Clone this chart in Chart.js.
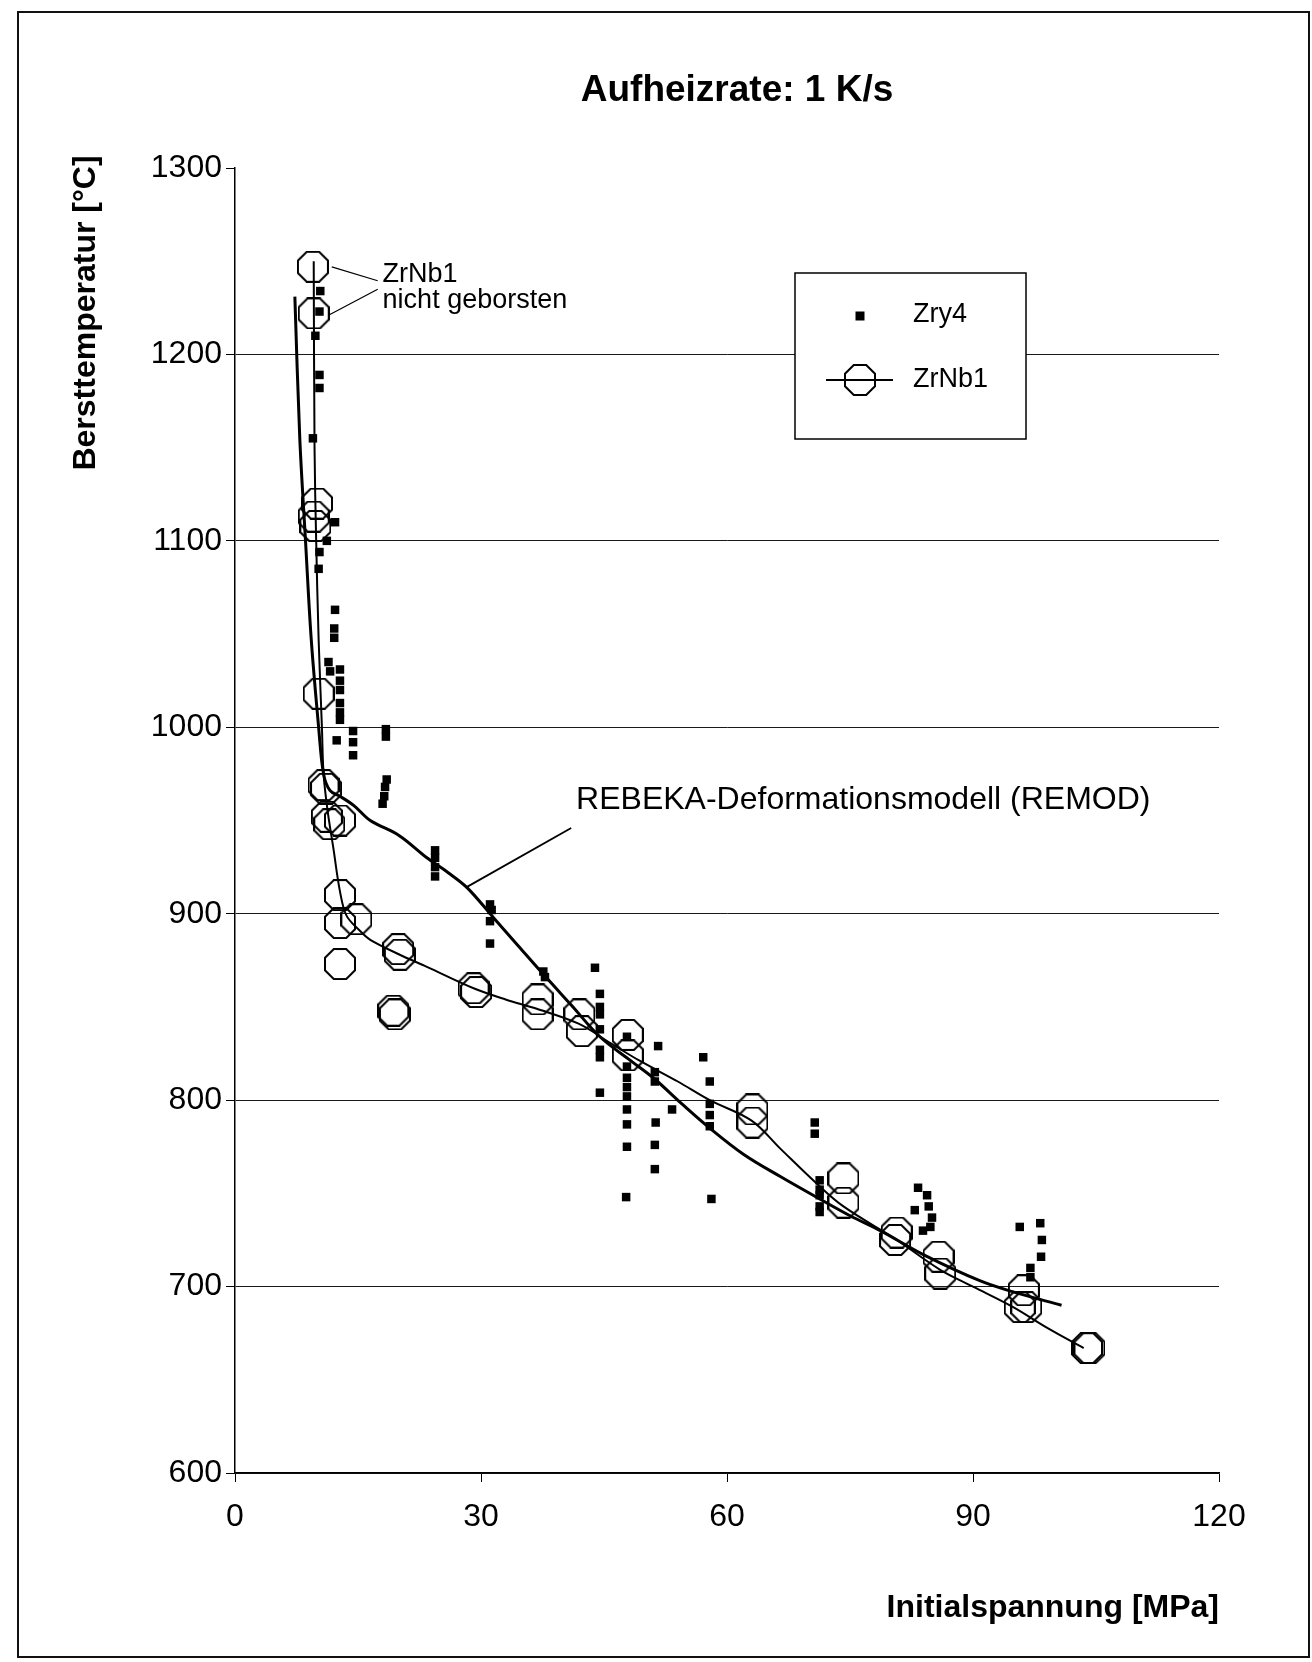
<!DOCTYPE html>
<html>
<head>
<meta charset="utf-8">
<script src="https://cdn.jsdelivr.net/npm/chart.js@4.4.1/dist/chart.umd.min.js"></script>
<style>
  html, body { margin: 0; padding: 0; background: #fff; }
  canvas { display: block; }
</style>
</head>
<body>
<canvas id="c" width="1312" height="1662"></canvas>
<script>
// ---------- data ----------
const chartTitle = 'Aufheizrate: 1 K/s';
const xTitle = 'Initialspannung [MPa]';
const yTitle = 'Bersttemperatur [°C]';
const xTicks = [0, 30, 60, 90, 120];
const yTicks = [600, 700, 800, 900, 1000, 1100, 1200, 1300];

// Zry4 measurements (squares)
const zry4X = [10.4, 10.3, 9.8, 10.3, 10.3, 9.5, 12.2, 11.2, 10.3, 10.2, 12.2, 12.1, 12.1, 11.4, 11.6,
  12.8, 12.8, 12.8, 12.8, 12.8, 12.8, 12.4, 14.4, 14.4, 14.4, 18.4, 18.4, 18.5, 18.3, 18.2, 18.0,
  24.4, 24.4, 24.4, 24.4, 31.1, 31.3, 31.1, 31.1, 37.6, 37.8,
  43.9, 44.5, 44.5, 44.5, 44.5, 44.5, 44.5, 44.5,
  47.8, 47.8, 47.8, 47.8, 47.8, 47.8, 47.8, 47.8, 47.7,
  51.6, 51.2, 51.2, 51.3, 51.2, 51.2, 53.3,
  57.1, 57.9, 57.9, 57.9, 57.9, 58.1,
  70.7, 70.7, 71.3, 71.3, 71.3, 71.3, 71.3,
  83.3, 84.4, 82.9, 84.6, 85.0, 83.9, 84.8,
  95.7, 98.2, 98.4, 98.3, 97.0, 97.0];
const zry4Y = [1234, 1223, 1210, 1189, 1182, 1155, 1110, 1100, 1094, 1085, 1063, 1053, 1048, 1035, 1030,
  1031, 1025, 1020, 1013, 1008, 1004, 993, 998, 992, 985, 999, 995, 972, 968, 963, 959,
  934, 930, 925, 920, 905, 902, 896, 884, 869, 866,
  871, 857, 850, 846, 838, 827, 823, 804,
  834, 818, 812, 807, 802, 795, 787, 775, 748,
  829, 815, 810, 788, 776, 763, 795,
  823, 810, 798, 792, 786, 747,
  788, 782, 757, 752, 749, 743, 740,
  753, 749, 741, 743, 737, 730, 732,
  732, 734, 725, 716, 710, 705];

// ZrNb1 measurements (octagons)
const zrnb1X = [9.5, 9.6, 10.0, 9.6, 9.8, 10.2, 10.8, 11.1, 11.2, 11.5, 12.8, 12.8, 12.8, 14.8, 12.8,
  19.9, 20.1, 19.3, 19.5, 29.1, 29.4, 36.9, 36.9, 42.0, 42.3, 47.9, 47.9,
  63.1, 63.1, 74.2, 74.2, 80.7, 80.5, 85.8, 86.0, 96.2, 95.7, 96.5, 103.9, 104.2];
const zrnb1Y = [1247, 1222, 1120, 1113, 1108, 1018, 969, 967, 952, 948, 950, 910, 895, 897, 873,
  881, 878, 848, 846, 860, 858, 854, 846, 846, 837, 835, 824,
  795, 788, 758, 745, 729, 725, 716, 707, 698, 689, 689, 667, 667];

// ZrNb1 trend line
const zrnb1FitX = [9.6, 9.7, 9.9, 10.2, 10.6, 10.8, 11.3, 12.0, 12.8, 13.6, 15.2, 16.5, 20.1, 23.4,
  29.1, 33.0, 36.8, 41.9, 46.0, 49.4, 54.0, 57.9, 63.0, 66.5, 71.0, 74.2, 80.7, 86.0, 90.0, 94.9, 99.0, 103.5];
const zrnb1FitY = [1250, 1150, 1100, 1047, 1000, 975, 955, 935, 912, 899, 891, 886, 878, 871.5,
  860, 854, 849, 841, 830, 821, 810, 800, 789, 774, 755, 743, 725, 709, 700, 689, 678, 667];

// REBEKA-Deformationsmodell (REMOD)
const remodX = [7.3, 7.9, 8.6, 9.3, 10.2, 10.8, 11.6, 12.8, 14.5, 16.5, 20.0, 23.4, 26.0, 28.3, 31.5,
  34.5, 37.5, 41.0, 44.5, 48.0, 51.0, 54.5, 57.9, 62.0, 66.5, 71.3, 75.0, 78.7, 84.0, 90.9, 95.0, 100.8];
const remodY = [1231, 1155, 1100, 1047, 1000, 975, 966, 963, 958, 950, 942, 930, 922, 914, 898,
  883, 868, 851, 834, 822, 812, 798, 785, 771, 759, 747, 738, 730, 717, 703, 697, 690];

const seriesNames = ['Zry4', 'ZrNb1'];
const remodLabel = 'REBEKA-Deformationsmodell (REMOD)';
const noteLines = ['ZrNb1', 'nicht geborsten'];

// ---------- helpers ----------
const FONT = "'Liberation Sans', Arial, Helvetica, sans-serif";
const toPts = (xs, ys) => xs.map((x, i) => ({ x: x, y: ys[i] }));

function makeOctagon(size, lw) {
  const c = document.createElement('canvas');
  c.width = size; c.height = size;
  const g = c.getContext('2d');
  g.strokeStyle = '#000';
  g.lineWidth = lw;
  const ap = (size - lw) / 2;
  const r = ap / Math.cos(Math.PI / 8);
  g.beginPath();
  for (let i = 0; i < 8; i++) {
    const a = Math.PI / 8 + i * Math.PI / 4;
    const px = size / 2 + r * Math.cos(a);
    const py = size / 2 + r * Math.sin(a);
    if (i === 0) g.moveTo(px, py); else g.lineTo(px, py);
  }
  g.closePath();
  g.stroke();
  return c;
}
const octagon = makeOctagon(32, 2);

const decorPlugin = {
  id: 'decor',
  beforeDraw(chart) {
    const ctx = chart.ctx;
    ctx.save();
    ctx.fillStyle = '#fff';
    ctx.fillRect(0, 0, chart.width, chart.height);
    ctx.strokeStyle = '#111';
    ctx.lineWidth = 2;
    ctx.strokeRect(18, 12, 1291, 1645);
    ctx.restore();
  },
  afterDraw(chart) {
    const ctx = chart.ctx;
    const xs = chart.scales.x, ys = chart.scales.y;
    const X = v => xs.getPixelForValue(v), Y = v => ys.getPixelForValue(v);
    ctx.save();
    ctx.fillStyle = '#000';
    ctx.strokeStyle = '#000';

    // title
    ctx.font = 'bold 37px ' + FONT;
    ctx.textAlign = 'center';
    ctx.textBaseline = 'alphabetic';
    ctx.fillText(chartTitle, 737, 101);

    // y title
    ctx.save();
    ctx.translate(86, 313);
    ctx.rotate(-Math.PI / 2);
    ctx.font = 'bold 32px ' + FONT;
    ctx.textAlign = 'center';
    ctx.textBaseline = 'middle';
    ctx.fillText(yTitle, 0, 0);
    ctx.restore();

    // x title
    ctx.font = 'bold 32px ' + FONT;
    ctx.textAlign = 'right';
    ctx.textBaseline = 'middle';
    ctx.fillText(xTitle, xs.right, 1608);

    // annotation: ZrNb1 nicht geborsten
    ctx.font = '27px ' + FONT;
    ctx.textAlign = 'left';
    ctx.textBaseline = 'alphabetic';
    ctx.fillText(noteLines[0], X(18.0), Y(1238.8));
    ctx.fillText(noteLines[1], X(18.0), Y(1225.0));
    ctx.lineWidth = 1.2;
    ctx.beginPath();
    ctx.moveTo(X(11.8), Y(1247)); ctx.lineTo(X(17.4), Y(1239.5));
    ctx.moveTo(X(17.4), Y(1235)); ctx.lineTo(X(11.4), Y(1221));
    ctx.stroke();

    // annotation: REMOD
    ctx.font = '32px ' + FONT;
    ctx.fillText(remodLabel, X(41.6), Y(956));
    ctx.lineWidth = 1.8;
    ctx.beginPath();
    ctx.moveTo(X(41.0), Y(946)); ctx.lineTo(X(28.3), Y(914.4));
    ctx.stroke();

    // legend box
    const lx = 795, ly = 273, lw = 231, lh = 166;
    ctx.fillStyle = '#fff';
    ctx.fillRect(lx, ly, lw, lh);
    ctx.lineWidth = 1.5;
    ctx.strokeStyle = '#000';
    ctx.strokeRect(lx, ly, lw, lh);
    ctx.fillStyle = '#000';
    ctx.fillRect(860 - 4.5, 316 - 4.5, 9, 9);
    ctx.lineWidth = 2;
    ctx.beginPath();
    ctx.moveTo(826, 380); ctx.lineTo(893, 380);
    ctx.stroke();
    ctx.drawImage(octagon, 860 - 16, 380 - 16);
    ctx.font = '27px ' + FONT;
    ctx.textAlign = 'left';
    ctx.textBaseline = 'middle';
    ctx.fillText(seriesNames[0], 913, 315);
    ctx.fillText(seriesNames[1], 913, 380);
    ctx.restore();
  }
};

new Chart(document.getElementById('c'), {
  type: 'scatter',
  data: {
    datasets: [
      {
        label: seriesNames[0],
        data: toPts(zry4X, zry4Y),
        pointStyle: 'rect',
        pointRadius: 6,
        backgroundColor: '#000',
        borderColor: '#000',
        borderWidth: 0,
        showLine: false
      },
      {
        label: seriesNames[1],
        data: toPts(zrnb1X, zrnb1Y),
        pointStyle: octagon,
        pointRadius: 16,
        showLine: false
      },
      {
        label: seriesNames[1] + ' Trend',
        data: toPts(zrnb1FitX, zrnb1FitY),
        showLine: true,
        pointRadius: 0,
        borderColor: '#000',
        borderWidth: 2,
        tension: 0.35
      },
      {
        label: remodLabel,
        data: toPts(remodX, remodY),
        showLine: true,
        pointRadius: 0,
        borderColor: '#000',
        borderWidth: 3,
        tension: 0.35
      }
    ]
  },
  options: {
    responsive: false,
    animation: false,
    events: [],
    layout: { padding: { left: 0, top: 168, right: 93, bottom: 0 } },
    plugins: { legend: { display: false }, tooltip: { enabled: false }, title: { display: false } },
    scales: {
      x: {
        type: 'linear',
        position: 'bottom',
        min: 0, max: 120,
        afterFit: s => { s.height = 189; },
        afterBuildTicks: s => { s.ticks = xTicks.map(v => ({ value: v })); },
        ticks: { color: '#000', font: { family: FONT, size: 32 }, padding: 16, maxRotation: 0,
                 callback: v => String(v) },
        grid: { drawOnChartArea: false, drawTicks: true, tickLength: 9, tickColor: '#000', lineWidth: 1 },
        border: { display: true, color: '#000', width: 1.5 }
      },
      y: {
        type: 'linear',
        min: 600, max: 1300,
        afterFit: s => { s.width = 235; },
        afterBuildTicks: s => { s.ticks = yTicks.map(v => ({ value: v })); },
        ticks: { color: '#000', font: { family: FONT, size: 32 }, padding: 4,
                 callback: v => String(v) },
        grid: {
          color: c => (c.tick && c.tick.value === 1300) ? 'rgba(0,0,0,0)' : '#1a1a1a',
          lineWidth: 1,
          drawTicks: true, tickLength: 9, tickColor: '#000'
        },
        border: { display: true, color: '#000', width: 1.5 }
      }
    }
  },
  plugins: [decorPlugin]
});
</script>
</body>
</html>
